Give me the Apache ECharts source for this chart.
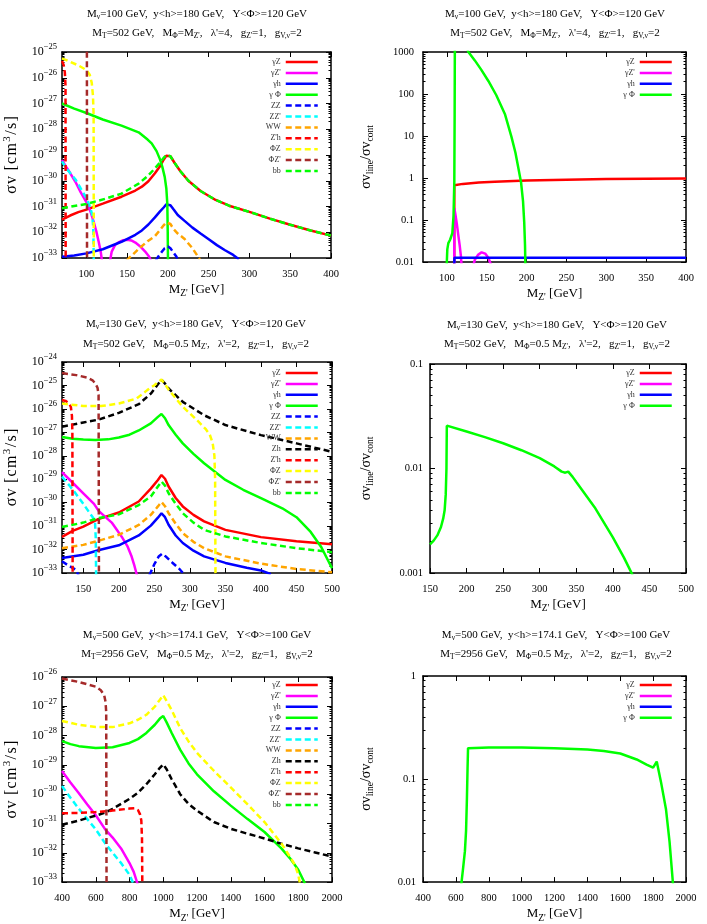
<!DOCTYPE html>
<html><head><meta charset="utf-8">
<script src="https://cdn.jsdelivr.net/npm/echarts@6/dist/echarts.min.js"></script>
<style>html,body{margin:0;padding:0;background:#fff}#c{width:707px;height:924px}</style>
</head><body><div id="c"></div>
<script>
// ---------- DATA (x = M_Z' in GeV, y = log10 of the plotted value) ----------
// Panel 1 : sigma v [cm^3/s]
const p1_gZ   = [[70,-31.51],[80,-31.35],[90,-31.22],[100,-31.12],[120,-30.89],[143,-30.62],[160,-30.38],[168,-30.23],[176,-30.02],[184,-29.71],[190,-29.45],[194,-29.22],[198,-29.03],[200,-28.97],[203,-29.05],[208,-29.3],[215,-29.62],[225,-30.0],[240,-30.4],[257,-30.72],[275,-30.97],[300,-31.21],[325,-31.47],[350,-31.71],[375,-31.93],[400,-32.13]];
const p1_gZp  = [[70,-29.19],[75,-29.45],[80,-29.7],[86.6,-30.05],[93,-30.45],[100.8,-30.88],[105,-31.2],[108.9,-31.6],[112,-31.95],[115,-32.37],[117.5,-32.75],[119,-33.1],null,[129,-33.1],[131,-32.75],[135,-32.5],[140,-32.38],[145,-32.31],[150,-32.29],[155,-32.32],[160,-32.4],[166,-32.55],[172,-32.75],[177,-32.95],[179,-33.1]];
const p1_gh   = [[70,-32.95],[85,-32.9],[100,-32.82],[120,-32.66],[143,-32.37],[160,-32.1],[168,-31.93],[176,-31.7],[184,-31.42],[190,-31.2],[195,-31.03],[198,-30.92],[200,-30.87],[203,-30.95],[207,-31.12],[212,-31.33],[220,-31.55],[230,-31.82],[240,-32.05],[250,-32.27],[260,-32.5],[270,-32.7],[280,-32.88],[287,-33.05]];
const p1_gPhi = [[70,-27.0],[85,-27.2],[100,-27.37],[120,-27.62],[143,-27.86],[164,-28.12],[175,-28.4],[180,-28.55],[186,-28.85],[190,-29.15],[193,-29.45],[196,-29.85],[198,-30.3],[199.2,-30.9],[199.7,-32.0],[200,-33.1]];
const p1_ZZ   = [[185,-33.1],[188,-32.95],[192,-32.78],[196,-32.62],[200,-32.55],[203,-32.62],[207,-32.8],[210,-32.93],[213,-33.1]];
const p1_ZZp  = [[70,-29.25],[75,-29.5],[80,-29.7],[86.6,-29.95],[93,-30.3],[100.8,-30.72],[104,-31.0],[107,-31.3],[108.3,-31.8],[108.7,-32.5],[108.9,-33.1]];
const p1_WW   = [[149,-33.1],[155,-32.92],[165,-32.62],[175,-32.35],[184,-32.15],[190,-31.92],[195,-31.72],[198,-31.62],[200,-31.58],[203,-31.68],[207,-31.88],[212,-32.05],[220,-32.25],[230,-32.62],[239,-33.05]];
const p1_Zph  = [[70,-25.35],[72,-25.5],[73.5,-25.8],[74.3,-26.3],[74.5,-33.1]];
const p1_PhiZ = [[70,-25.25],[80,-25.38],[90,-25.52],[100,-25.7],[104,-25.88],[106.5,-26.2],[108,-26.7],[108.8,-27.5],[109,-33.1]];
const p1_PhiZp= [[70,-23],[100.5,-23],[100.7,-33.1]];
const p1_bb   = [[70,-31.07],[85,-30.98],[100,-30.9],[123,-30.7],[143,-30.5],[164,-30.11],[175,-29.82],[184,-29.52],[190,-29.3],[195,-29.1],[198,-29.0],[200,-28.96],[203,-29.05],[208,-29.3],[215,-29.62],[225,-30.0],[240,-30.4],[257,-30.72],[275,-30.97],[300,-31.21],[325,-31.47],[350,-31.71],[375,-31.93],[400,-32.13]];
// Panel 2 : sigma v line / sigma v cont
const p2_gZ   = [[109.2,-2.1],[109.3,-0.17],[110,-0.165],[120,-0.14],[140,-0.11],[160,-0.09],[200,-0.06],[250,-0.04],[300,-0.025],[350,-0.015],[400,-0.01]];
const p2_gZp  = [[109.2,-2.1],[109.3,-0.72],[110.5,-0.85],[112.5,-1.1],[114.3,-1.36],[116,-1.6],[117.5,-1.85],[118.5,-2.1],null,[133,-2.1],[135,-1.95],[139,-1.83],[143.6,-1.77],[148,-1.8],[152,-1.9],[156,-2.1]];
const p2_gh   = [[109.3,-2.1],[109.4,-1.9],[400,-1.9]];
const p2_gPhi = [[99.7,-2.1],[100.5,-1.7],[101.8,-1.55],[104,-1.47],[106.8,-1.31],[108.3,-0.9],[109.3,-0.08],[109.7,1.5],[110,3.4],[118,3.5],[127,3.0],[135,2.8],[143,2.58],[152,2.31],[162,1.97],[173,1.51],[181,0.98],[186,0.6],[190,0.2],[193,-0.1],[195.5,-0.55],[197,-1.05],[198,-1.6],[198.5,-2.1]];
// Panel 3
const p3_gZ   = [[120,-31.46],[135,-31.2],[150,-31.02],[171,-30.7],[200,-30.42],[228,-29.95],[245,-29.4],[255,-29.03],[260,-28.82],[265,-28.98],[270,-29.31],[280,-29.8],[290,-30.16],[305,-30.52],[320,-30.8],[350,-31.16],[400,-31.47],[450,-31.65],[500,-31.77]];
const p3_gZp  = [[120,-28.7],[135,-29.15],[150,-29.6],[165,-30.05],[171.5,-30.35],[190,-30.85],[204,-31.45],[212,-31.85],[218,-32.3],[222,-32.7],[225.5,-33.1]];
const p3_gh   = [[120,-32.36],[150,-32.22],[171,-32.03],[200,-31.82],[228,-31.4],[245,-30.98],[255,-30.64],[260,-30.45],[265,-30.62],[270,-30.94],[280,-31.4],[290,-31.72],[305,-32.05],[320,-32.29],[350,-32.57],[380,-32.78],[400,-32.89],[414,-33.05]];
const p3_gPhi = [[120,-27.2],[135,-27.27],[150,-27.31],[167,-27.33],[185,-27.3],[200,-27.22],[215,-27.1],[228,-26.92],[245,-26.62],[255,-26.34],[260,-26.22],[265,-26.4],[270,-26.69],[280,-27.1],[290,-27.47],[305,-27.92],[320,-28.32],[350,-29.03],[375,-29.45],[400,-29.81],[430,-30.24],[450,-30.62],[470,-31.25],[485,-31.9],[495,-32.5],[500,-32.8]];
const p3_ZZ   = [[120,-32.5],[130,-32.7],[138.7,-32.85],[143.5,-33.1],null,[243,-33.1],[250,-32.62],[256,-32.3],[261,-32.18],[267,-32.32],[275,-32.55],[285,-32.82],[293,-33.1]];
const p3_ZZp  = [[120,-28.89],[130,-29.25],[139,-29.6],[150,-30.05],[158,-30.4],[164,-30.65],[166.5,-30.85],[167.5,-31.5],[168,-33.1]];
const p3_WW   = [[120,-31.94],[150,-31.8],[171,-31.63],[200,-31.37],[228,-30.95],[245,-30.52],[255,-30.16],[260,-29.97],[265,-30.15],[270,-30.45],[280,-30.9],[290,-31.3],[305,-31.67],[320,-31.94],[350,-32.29],[400,-32.6],[450,-32.83],[500,-32.97]];
const p3_Zh   = [[120,-26.76],[150,-26.58],[171,-26.46],[200,-26.17],[228,-25.8],[245,-25.35],[255,-24.95],[260,-24.76],[265,-24.92],[270,-25.13],[290,-25.7],[320,-26.27],[350,-26.69],[400,-27.12],[450,-27.47],[500,-27.83]];
const p3_Zph  = [[120,-25.62],[125,-25.66],[130,-25.76],[132.5,-25.92],[134,-26.3],[134.6,-27],[135,-33.1]];
const p3_PhiZ = [[120,-25.77],[150,-25.88],[175,-25.88],[200,-25.77],[225,-25.56],[240,-25.2],[250,-24.99],[256,-24.83],[260,-24.75],[265,-24.95],[270,-25.18],[290,-25.91],[310,-26.48],[322,-26.85],[328,-27.1],[332,-27.45],[334.5,-28.0],[335.5,-29],[336,-33.1]];
const p3_PhiZp= [[120,-24.47],[140,-24.56],[155,-24.66],[163,-24.78],[167,-24.92],[170,-25.1],[171.5,-25.4],[172,-33.1]];
const p3_bb   = [[120,-31.04],[150,-30.85],[171,-30.66],[200,-30.5],[228,-30.1],[245,-29.74],[255,-29.31],[260,-29.1],[265,-29.27],[270,-29.6],[280,-30.05],[290,-30.45],[305,-30.85],[320,-31.16],[350,-31.44],[400,-31.72],[450,-31.94],[500,-32.11]];
// Panel 4
const p4_gPhi = [[150,-2.725],[155,-2.69],[160,-2.64],[165,-2.56],[168,-2.48],[170,-2.4],[171.5,-2.25],[172.5,-2.0],[173,-1.59],[175,-1.6],[200,-1.646],[225,-1.70],[250,-1.758],[275,-1.825],[300,-1.9],[320,-1.98],[330,-2.03],[335,-2.04],[339,-2.03],[345,-2.08],[350,-2.13],[375,-2.37],[400,-2.66],[415,-2.85],[427,-3.02]];
// Panel 5
const p5_gZp  = [[400,-29.21],[450,-29.6],[500,-29.97],[550,-30.35],[600,-30.72],[656,-31.2],[700,-31.48],[750,-31.85],[800,-32.35],[825,-32.65],[850,-33.1]];
const p5_gPhi = [[400,-28.19],[450,-28.29],[500,-28.36],[600,-28.42],[700,-28.4],[800,-28.25],[850,-28.12],[900,-27.91],[950,-27.63],[980,-27.42],[1000,-27.33],[1020,-27.55],[1050,-27.91],[1100,-28.48],[1150,-28.95],[1200,-29.32],[1300,-29.9],[1400,-30.39],[1500,-30.85],[1600,-31.29],[1700,-31.85],[1750,-32.18],[1800,-32.58],[1840,-33.05]];
const p5_ZZp  = [[400,-29.72],[450,-30.12],[500,-30.5],[550,-30.85],[600,-31.2],[656,-31.68],[700,-32.0],[750,-32.35],[800,-32.75],[827,-33.1]];
const p5_Zh   = [[400,-31.04],[500,-30.9],[600,-30.73],[656,-30.63],[700,-30.5],[800,-30.16],[850,-29.95],[900,-29.66],[950,-29.32],[980,-29.1],[1000,-28.98],[1020,-29.15],[1050,-29.49],[1100,-30.0],[1150,-30.33],[1200,-30.56],[1300,-30.95],[1400,-31.18],[1500,-31.35],[1600,-31.51],[1700,-31.69],[1800,-31.85],[1900,-31.99],[2000,-32.13]];
const p5_Zph  = [[400,-30.65],[500,-30.64],[600,-30.61],[700,-30.56],[800,-30.49],[830,-30.48],[850,-30.54],[862,-30.68],[870,-30.9],[874,-31.5],[876,-33.1]];
const p5_PhiZ = [[400,-27.5],[500,-27.63],[600,-27.71],[700,-27.71],[800,-27.58],[850,-27.46],[900,-27.29],[950,-27.01],[980,-26.78],[1000,-26.62],[1020,-26.82],[1050,-27.13],[1100,-27.74],[1150,-28.2],[1200,-28.59],[1300,-29.2],[1400,-29.77],[1500,-30.35],[1600,-30.95],[1700,-31.68],[1750,-32.13],[1780,-32.41],[1800,-32.75],[1812,-33.1]];
const p5_PhiZp= [[400,-26.05],[500,-26.17],[550,-26.25],[600,-26.33],[630,-26.45],[650,-26.62],[658,-26.85],[662,-27.2],[664,-33.1]];
// Panel 6
const p6_gPhi = [[633,-2.02],[645,-1.85],[655,-1.7],[662,-1.5],[667,-1.2],[671,-0.9],[674,-0.7],[680,-0.695],[800,-0.693],[1000,-0.694],[1200,-0.7],[1400,-0.714],[1500,-0.728],[1600,-0.752],[1700,-0.81],[1760,-0.86],[1800,-0.89],[1822,-0.83],[1848,-1.03],[1878,-1.29],[1900,-1.61],[1921,-2.02]];

// tick labels
const xTicksA = [100,150,200,250,300,350,400];
const xTicksB = [150,200,250,300,350,400,450,500];
const xTicksC = [400,600,800,1000,1200,1400,1600,1800,2000];
const yDec1 = [-33,-32,-31,-30,-29,-28,-27,-26,-25];
const yDec2 = [-2,-1,0,1,2,3];
const yDec3 = [-33,-32,-31,-30,-29,-28,-27,-26,-25,-24];
const yDec4 = [-3,-2,-1];
const yDec5 = [-33,-32,-31,-30,-29,-28,-27,-26];
const yDec6 = [-2,-1,0];

// legend entries
const legendBig   = ['γZ',"γZ'",'γh','γ Φ','ZZ',"ZZ'",'WW',"Z'h",'ΦZ',"ΦZ'",'bb'];
const legendBigZh = ['γZ',"γZ'",'γh','γ Φ','ZZ',"ZZ'",'WW','Zh',"Z'h",'ΦZ',"ΦZ'",'bb'];
const legendSmall = ['γZ',"γZ'",'γh','γ Φ'];

// ---------- STYLE ----------
const FONT = 'Liberation Serif';
const LW = 2.5, DASH = [6, 3.5];
const STY = {
  gZ:['γZ','#ff0000',false], gZp:["γZ'",'#ff00ff',false], gh:['γh','#0000ff',false], gPhi:['γ Φ','#00ff00',false],
  ZZ:['ZZ','#0000ff',true], ZZp:["ZZ'",'#00ffff',true], WW:['WW','#ffa500',true], Zh:['Zh','#000000',true],
  Zph:["Z'h",'#ff0000',true], PhiZ:['ΦZ','#ffff00',true], PhiZp:["ΦZ'",'#a52a2a',true], bb:['bb','#00ff00',true]
};
const T1a = '{n|M}{sub|ν}{n|=100 GeV,  y<h>=180 GeV,   Y<Φ>=120 GeV}';
const T2a = "{n|M}{sub|T}{n|=502 GeV,   M}{sub|Φ}{n|=M}{sub|Z'}{n|,   λ'=4,   g}{sub|Z'}{n|=1,   g}{sub|V,ν}{n|=2}";
const T1b = '{n|M}{sub|ν}{n|=130 GeV,  y<h>=180 GeV,   Y<Φ>=120 GeV}';
const T2b = "{n|M}{sub|T}{n|=502 GeV,   M}{sub|Φ}{n|=0.5 M}{sub|Z'}{n|,   λ'=2,   g}{sub|Z'}{n|=1,   g}{sub|V,ν}{n|=2}";
const T1c = '{n|M}{sub|ν}{n|=500 GeV,  y<h>=174.1 GeV,   Y<Φ>=100 GeV}';
const T2c = "{n|M}{sub|T}{n|=2956 GeV,   M}{sub|Φ}{n|=0.5 M}{sub|Z'}{n|,   λ'=2,   g}{sub|Z'}{n|=1,   g}{sub|V,ν}{n|=2}";
const HS = '\u200A';
const YNAME_SCI = '{a|σ' + HS + 'v' + HS + ' [' + HS + 'c' + HS + 'm' + HS + '}{sup|3}{a|' + HS + '/' + HS + 's' + HS + ']}';
const YNAME_RATIO = '{a|σv}{sub|line}{a|/σv}{sub|cont}';

const panels = [
  {grid:{left:62,top:52,width:269,height:206}, xr:[70,400], xt:xTicksA, yd:yDec1, sci:true,
   ser:[['gZ',p1_gZ],['gZp',p1_gZp],['gh',p1_gh],['gPhi',p1_gPhi],['ZZ',p1_ZZ],['ZZp',p1_ZZp],['WW',p1_WW],['Zph',p1_Zph],['PhiZ',p1_PhiZ],['PhiZp',p1_PhiZp],['bb',p1_bb]],
   leg:legendBig, legPos:{right:388,top:58}, tx:197, ty:[14,33], yGap:41, ylm:5, t1:T1a, t2:T2a},
  {grid:{left:423,top:52,width:263,height:210}, xr:[70,400], xt:xTicksA, yd:yDec2, sci:false,
   ser:[['gZ',p2_gZ],['gZp',p2_gZp],['gh',p2_gh],['gPhi',p2_gPhi]],
   leg:legendSmall, legPos:{right:34,top:58}, tx:555, ty:[14,33], yGap:49, ylm:9, t1:T1a, t2:T2a},
  {grid:{left:62,top:362,width:270,height:211}, xr:[120,500], xt:xTicksB, yd:yDec3, sci:true,
   ser:[['gZ',p3_gZ],['gZp',p3_gZp],['gh',p3_gh],['gPhi',p3_gPhi],['ZZ',p3_ZZ],['ZZp',p3_ZZp],['WW',p3_WW],['Zh',p3_Zh],['Zph',p3_Zph],['PhiZ',p3_PhiZ],['PhiZp',p3_PhiZp],['bb',p3_bb]],
   leg:legendBigZh, legPos:{right:388,top:369}, tx:196, ty:[324,344], yGap:41, ylm:5, t1:T1b, t2:T2b},
  {grid:{left:430,top:364,width:256,height:209}, xr:[150,500], xt:xTicksB, yd:yDec4, sci:false,
   ser:[['gPhi',p4_gPhi]],
   leg:legendSmall, legPos:{right:34,top:369}, tx:557, ty:[325,344], yGap:56, ylm:7, t1:T1b, t2:T2b},
  {grid:{left:62,top:677,width:270,height:207}, xr:[400,2000], xt:xTicksC, yd:yDec5, sci:true,
   ser:[['gZp',p5_gZp],['gPhi',p5_gPhi],['ZZp',p5_ZZp],['Zh',p5_Zh],['Zph',p5_Zph],['PhiZ',p5_PhiZ],['PhiZp',p5_PhiZp]],
   leg:legendBigZh, legPos:{right:388,top:681}, tx:197, ty:[635,654], yGap:41, ylm:5, t1:T1c, t2:T2c},
  {grid:{left:423,top:676,width:263,height:208}, xr:[400,2000], xt:xTicksC, yd:yDec6, sci:false,
   ser:[['gPhi',p6_gPhi]],
   leg:legendSmall, legPos:{right:34,top:681}, tx:556, ty:[635,654], yGap:49, ylm:7, t1:T1c, t2:T2c}
];

const titleRich = {
  n:{fontFamily:FONT,fontSize:11,color:'#000',lineHeight:12},
  sub:{fontFamily:FONT,fontSize:7.5,color:'#000',lineHeight:8,padding:[6,0,0,0]}
};
const nameRichSci = {
  a:{fontFamily:FONT,fontSize:16,color:'#000',lineHeight:18},
  sup:{fontFamily:FONT,fontSize:11,color:'#000',lineHeight:11,padding:[0,0,9,0]}
};
const nameRichRatio = {
  a:{fontFamily:FONT,fontSize:14,color:'#000',lineHeight:16},
  sub:{fontFamily:FONT,fontSize:9.5,color:'#000',lineHeight:10,padding:[8,0,0,0]}
};
const xNameRich = {
  a:{fontFamily:FONT,fontSize:13,color:'#000',lineHeight:15},
  sub:{fontFamily:FONT,fontSize:9.5,color:'#000',lineHeight:10,padding:[8,0,0,0]}
};
const sciRich = {
  b:{fontFamily:FONT,fontSize:12,color:'#000',lineHeight:13},
  s:{fontFamily:FONT,fontSize:8.5,color:'#000',lineHeight:9,padding:[0,0,10,0]}
};

function minorTicks(dec) {
  const out = [];
  for (let i = 0; i < dec.length - 1; i++) for (let k = 2; k <= 9; k++) out.push(dec[i] + Math.log10(k));
  return out;
}

const grid=[], xAxis=[], yAxis=[], series=[], legend=[], graphic=[];
const axisLineOn = {show:true, onZero:false, lineStyle:{color:'#000', width:1.5}};
const tickStyle = {color:'#000', width:1};
panels.forEach((p, gi) => {
  grid.push(Object.assign({containLabel:false}, p.grid));
  ['bottom','top'].forEach((pos, k) => {
    xAxis.push({
      gridIndex:gi, type:'value', position:pos, min:p.xr[0], max:p.xr[1],
      axisLine:axisLineOn, axisTick:{show:true, inside:true, length:5, lineStyle:tickStyle, customValues:p.xt},
      splitLine:{show:false},
      axisLabel:{show:k===0, fontFamily:FONT, fontSize:10.5, color:'#000', margin:11, customValues:p.xt, formatter:v => String(v)},
      name: k===0 ? "{a|M}{sub|Z'}{a| [GeV]}" : '', nameLocation:'middle', nameGap:23,
      nameTextStyle:{rich:xNameRich}
    });
  });
  const yMin = p.yd[0], yMax = p.yd[p.yd.length-1];
  const minors = minorTicks(p.yd);
  ['left','right'].forEach((pos, k) => {
    yAxis.push({
      gridIndex:gi, type:'value', position:pos, min:yMin, max:yMax, interval:1,
      axisLine:axisLineOn, axisTick:{show:true, inside:true, length:5, lineStyle:tickStyle, customValues:p.yd},
      splitLine:{show:false},
      axisLabel:{show:k===0, margin:p.ylm, fontFamily:FONT, fontSize:10.5, color:'#000', customValues:p.yd,
        rich: sciRich,
        formatter: v => { const e = Math.round(v);
          if (p.sci) return '{b|10}{s|−' + (-e) + '}';
          return e >= 0 ? String(Math.pow(10,e)) : Math.pow(10,e).toFixed(-e); }},
      name: k===0 ? (p.sci ? YNAME_SCI : YNAME_RATIO) : '',
      nameLocation:'middle', nameRotate:90, nameGap:p.yGap, nameTextStyle:{rich: p.sci ? nameRichSci : nameRichRatio}
    });
    yAxis.push({
      gridIndex:gi, type:'value', position:pos, min:yMin, max:yMax, interval:1,
      axisLine:{show:false, onZero:false}, axisLabel:{show:false}, splitLine:{show:false},
      axisTick:{show:true, inside:true, length:2.5, lineStyle:tickStyle, customValues:minors}
    });
  });
  p.ser.forEach(([key, arr]) => {
    const [nm, col, dash] = STY[key];
    series.push({
      type:'line', name:nm, xAxisIndex:gi*2, yAxisIndex:gi*4, symbol:'none', showSymbol:false,
      animation:false, clip:true,
      lineStyle:{color:col, width:LW, type: dash ? DASH : 'solid'}, itemStyle:{color:col},
      data: arr.map(pt => pt ? [pt[0], pt[1]] : ['-','-'])
    });
  });
  legend.push({
    data:p.leg, orient:'vertical', align:'right', right:p.legPos.right, top:p.legPos.top,
    itemWidth:32, itemHeight:8, itemGap:2.9, padding:0, selectedMode:false,
    itemStyle:{opacity:0}, lineStyle:{width:LW},
    textStyle:{fontFamily:FONT, fontSize:8, color:'#333'}
  });
  graphic.push({type:'text', x:p.tx, y:p.ty[0], style:{text:p.t1, rich:titleRich, align:'center', verticalAlign:'middle'}});
  graphic.push({type:'text', x:p.tx, y:p.ty[1], style:{text:p.t2, rich:titleRich, align:'center', verticalAlign:'middle'}});
});

const chart = echarts.init(document.getElementById('c'), null, {renderer:'canvas'});
chart.setOption({animation:false, backgroundColor:'#fff', grid, xAxis, yAxis, series, legend, graphic});
</script></body></html>
